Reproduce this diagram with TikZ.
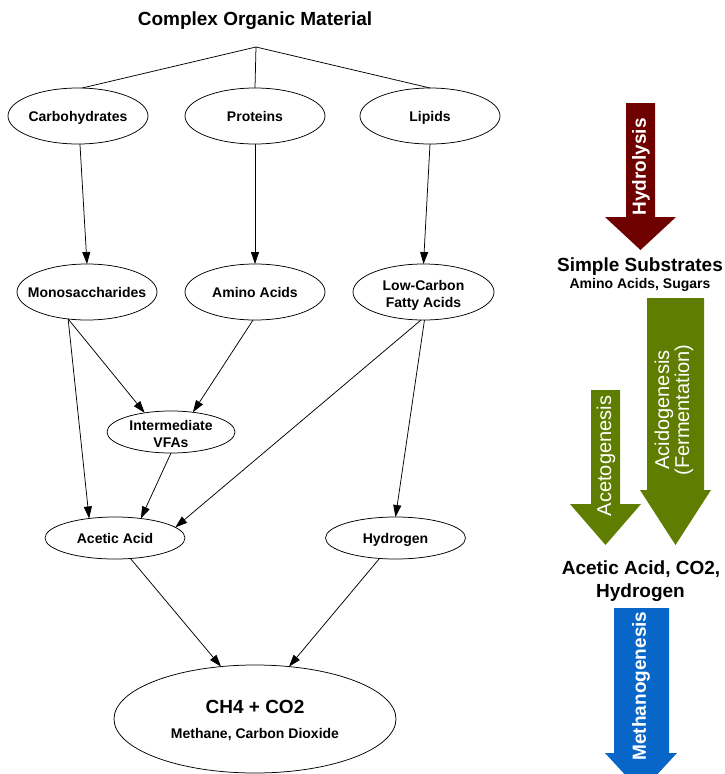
\documentclass[tikz,border=0pt]{standalone}
\usepackage{fontspec}
\setmainfont{Liberation Sans}
\usetikzlibrary{arrows.meta,shapes.geometric}
\definecolor{hydrocol}{HTML}{6E0000}
\definecolor{acidcol}{HTML}{5F7D00}
\definecolor{methcol}{HTML}{0866C8}
\newcommand{\zbox}[1]{\makebox[0pt]{\smash{\raisebox{-5pt}{#1}}}}
\newcommand{\zlines}[1]{\makebox[0pt]{\smash{\raisebox{-7pt}{\begin{tabular}{@{}c@{}}#1\end{tabular}}}}}
\begin{document}
\begin{tikzpicture}[x=1pt,y=-1pt,
  stage/.style={draw, ellipse, line width=0.75pt, inner sep=0pt, outer sep=0pt,
    minimum width=140pt, minimum height=56pt,
    font=\fontsize{14}{17}\selectfont\bfseries},
  smallstage/.style={stage, minimum height=42pt},
  flow/.style={line width=0.75pt, -{Triangle[length=12pt,width=8pt]}},
  branch/.style={line width=0.75pt},
  bigtext/.style={font=\fontsize{19}{23}\selectfont\bfseries, inner sep=0pt,
    text height=13.6pt, text depth=0pt, anchor=center},
  subtext/.style={font=\fontsize{14}{17}\selectfont\bfseries, inner sep=0pt,
    text height=10pt, text depth=0pt},
  arrowtext/.style={rotate=90, text=white, inner sep=0pt, font=\fontsize{19}{22}\selectfont\bfseries},
  arrowtextlight/.style={rotate=90, text=white, inner sep=0pt, align=center, font=\fontsize{20}{20}\selectfont}]
\useasboundingbox (0,0) rectangle (724,774);
\clip (0,0) rectangle (724,774);

% title and branch
\node[bigtext] (title) at (255,19) {Complex Organic Material};
\coordinate (apex) at (256,47);

% nodes
\node[stage] (carb) at (78,116) {\zbox{Carbohydrates}};
\node[stage] (prot) at (255,116) {\zbox{Proteins}};
\node[stage] (lip) at (430,116) {\zbox{Lipids}};
\node[stage] (mono) at (87,292) {\zbox{Monosaccharides}};
\node[stage] (amino) at (255,292) {\zbox{Amino Acids}};
\node[stage, minimum width=141pt] (lcfa) at (423.5,292) {\zlines{Low-Carbon\\Fatty Acids}};
\node[smallstage, minimum width=128pt] (vfa) at (171,432) {\zlines{Intermediate\\VFAs}};
\node[smallstage] (acetic) at (115,538) {\zbox{Acetic Acid}};
\node[smallstage] (hydro) at (395.5,538) {\zbox{Hydrogen}};
\node[stage, minimum width=282pt, minimum height=108pt] (ch4) at (255,719)
  {\zlines{{\fontsize{19}{23}\selectfont CH4 + CO2}\\[8pt]Methane, Carbon Dioxide}};

% branch lines
\draw[branch] (apex) -- (carb.82);
\draw[branch] (apex) -- (prot.north);
\draw[branch] (apex) -- (lip.north);

% flows
\draw[flow] (carb.274) -- (mono.north);
\draw[flow] (prot.south) -- (amino.north);
\draw[flow] (lip.south) -- (lcfa.north);
\draw[flow] (mono.235) -- (acetic.143);
\draw[flow] (mono.235) -- (vfa.144);
\draw[flow] (amino.266) -- (vfa.42);
\draw[flow] (vfa.south) -- (acetic.37);
\draw[flow] (lcfa.265) -- (acetic.10);
\draw[flow] (lcfa.272) -- (hydro.north);
\draw[flow] (acetic.307) -- (ch4.123);
\draw[flow] (hydro.232) -- (ch4.57);

% right side stage arrows
\fill[hydrocol] (626,103) -- (655,103) -- (655,217) -- (676,217) -- (640.5,250)
  -- (605,217) -- (626,217) -- cycle;
\node[arrowtext] (hydrolysis) at (641,167) {Hydrolysis};

\node[bigtext] (simple) at (640,265) {Simple Substrates};
\node[subtext] (simplesub) at (640,283) {Amino Acids, Sugars};

\fill[acidcol] (647,298) -- (704,298) -- (704,490) -- (711,490) -- (675.5,545)
  -- (640,490) -- (647,490) -- cycle;
\node[arrowtextlight] (acido) at (674,410) {Acidogenesis\\(Fermentation)};

\fill[acidcol] (591,390) -- (620,390) -- (620,504) -- (641,504) -- (605.5,545)
  -- (570,504) -- (591,504) -- cycle;
\node[arrowtextlight] (aceto) at (606,456) {Acetogenesis};

\node[bigtext] (products) at (641,568) {Acetic Acid, CO2,};
\node[bigtext] (productsb) at (640.5,591) {Hydrogen};

\fill[methcol] (614,608) -- (669,608) -- (669,753) -- (677,753) -- (641,792)
  -- (605,753) -- (614,753) -- cycle;
\node[arrowtext] (methano) at (641,686) {Methanogenesis};
\end{tikzpicture}
\end{document}
